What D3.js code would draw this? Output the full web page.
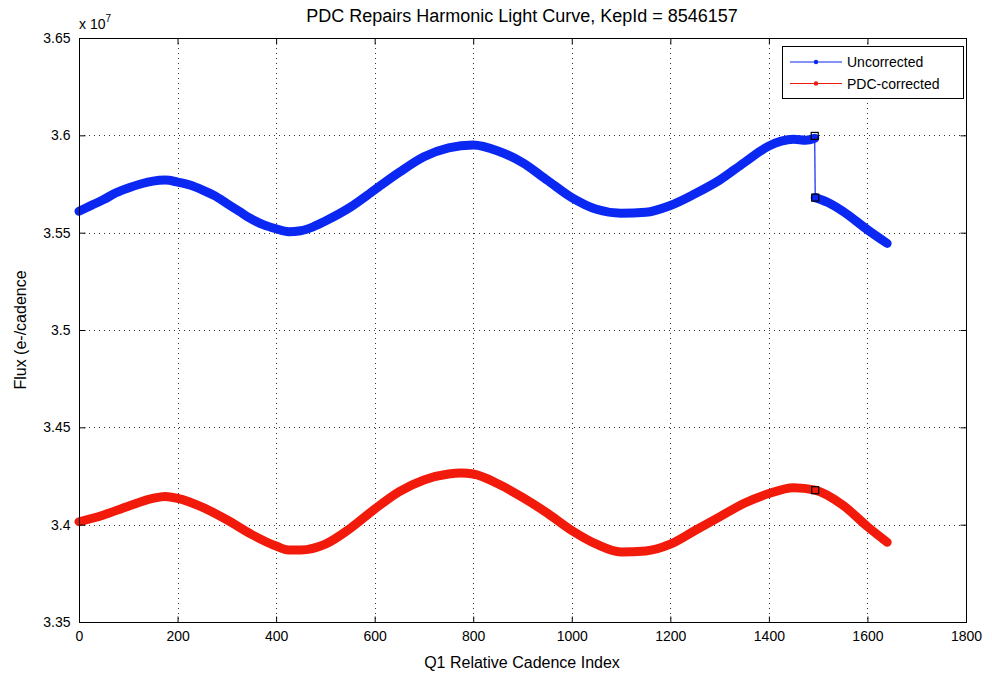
<!DOCTYPE html>
<html>
<head>
<meta charset="utf-8">
<script src="https://cdn.jsdelivr.net/npm/d3@7"></script>
<style>
  html, body { margin: 0; padding: 0; background: #fff; }
  svg { display: block; font-family: "Liberation Sans", Arial, Helvetica, sans-serif; }
</style>
</head>
<body>
<svg id="chart" width="992" height="677"></svg>
<script>
// Cadence indices and flux (units of 1e7 e-/cadence) for the two light curves
const uncorrectedIndex = [0, 25, 50, 75, 100, 125, 150, 175, 200, 225, 250, 275, 300, 325, 350, 375, 400, 425, 450, 475, 500, 550, 600, 650, 700, 750, 800, 850, 900, 950, 1000, 1050, 1100, 1150, 1200, 1250, 1300, 1350, 1400, 1425, 1450, 1475, 1493, 1494, 1520, 1550, 1600, 1640];
const uncorrectedFlux = [3.561, 3.564, 3.567, 3.5705, 3.573, 3.575, 3.5765, 3.577, 3.576, 3.5745, 3.572, 3.569, 3.565, 3.561, 3.557, 3.554, 3.552, 3.5505, 3.551, 3.553, 3.556, 3.563, 3.572, 3.581, 3.589, 3.5935, 3.595, 3.592, 3.586, 3.577, 3.568, 3.562, 3.560, 3.5605, 3.564, 3.570, 3.577, 3.586, 3.5945, 3.597, 3.598, 3.5975, 3.5985, 3.568, 3.5655, 3.561, 3.5515, 3.5445];

const correctedIndex = [0, 50, 100, 150, 175, 200, 250, 300, 350, 400, 425, 450, 500, 550, 600, 650, 700, 750, 775, 800, 850, 900, 950, 1000, 1050, 1100, 1150, 1200, 1250, 1300, 1350, 1400, 1450, 1494, 1550, 1600, 1640];
const correctedFlux = [3.4015, 3.405, 3.4095, 3.4135, 3.4145, 3.4135, 3.409, 3.4025, 3.395, 3.389, 3.387, 3.387, 3.390, 3.398, 3.408, 3.417, 3.423, 3.426, 3.4265, 3.426, 3.421, 3.414, 3.406, 3.397, 3.390, 3.386, 3.3865, 3.390, 3.397, 3.404, 3.411, 3.416, 3.419, 3.4177, 3.410, 3.399, 3.391];

// Cadences flagged at the discontinuity
const repairIndex = [1493, 1494];
const repairUncorrected = [3.5997, 3.568];
const repairCorrected = [3.4177];

const xTicks = [0, 200, 400, 600, 800, 1000, 1200, 1400, 1600, 1800];
const yTicks = [3.35, 3.4, 3.45, 3.5, 3.55, 3.6, 3.65];
const yTickLabels = ["3.35", "3.4", "3.45", "3.5", "3.55", "3.6", "3.65"];

const seriesNames = ["Uncorrected", "PDC-corrected"];
const seriesColors = ["#0a28f2", "#f21a0a"];

const svg = d3.select("#chart");
const plot = { left: 79, right: 966, top: 38, bottom: 622 };

const x = d3.scaleLinear().domain([0, 1800]).range([plot.left, plot.right]);
const y = d3.scaleLinear().domain([3.35, 3.65]).range([plot.bottom, plot.top]);

// grid
const grid = svg.append("g").attr("stroke", "#333").attr("stroke-width", 1)
  .attr("stroke-dasharray", "1,4");
xTicks.slice(1, -1).forEach(t => {
  grid.append("line").attr("x1", Math.round(x(t)) + 0.5).attr("x2", Math.round(x(t)) + 0.5)
    .attr("y1", plot.top).attr("y2", plot.bottom);
});
yTicks.slice(1, -1).forEach(t => {
  grid.append("line").attr("y1", Math.round(y(t)) + 0.5).attr("y2", Math.round(y(t)) + 0.5)
    .attr("x1", plot.left).attr("x2", plot.right);
});

// data
const line = (xs, ys) => d3.line().curve(d3.curveMonotoneX)
  .x(i => x(xs[i])).y(i => y(ys[i]))(d3.range(xs.length));

function drawSeries(xs, ys, color) {
  const g = svg.append("g");
  // split at the jump so the vertical step stays thin
  const cut = xs.indexOf(1494);
  const segs = cut > 0 && xs[cut - 1] === 1493
    ? [[0, cut], [cut, xs.length]] : [[0, xs.length]];
  segs.forEach(([a, b]) => {
    g.append("path").attr("d", line(xs.slice(a, b), ys.slice(a, b)))
      .attr("fill", "none").attr("stroke", color).attr("stroke-width", 9)
      .attr("stroke-linejoin", "round").attr("stroke-linecap", "round");
  });
  if (segs.length > 1) {
    g.append("line").attr("x1", x(xs[cut - 1])).attr("x2", x(xs[cut]))
      .attr("y1", y(ys[cut - 1])).attr("y2", y(ys[cut]))
      .attr("stroke", color).attr("stroke-width", 1.2);
  }
}
drawSeries(uncorrectedIndex, uncorrectedFlux, seriesColors[0]);
drawSeries(correctedIndex, correctedFlux, seriesColors[1]);

// repaired cadence markers
const marks = [
  [repairIndex[0], repairUncorrected[0]],
  [repairIndex[1], repairUncorrected[1]],
  [repairIndex[1], repairCorrected[0]]
];
svg.append("g").selectAll("rect").data(marks).join("rect")
  .attr("x", d => x(d[0]) - 3.5).attr("y", d => y(d[1]) - 3.5)
  .attr("width", 7).attr("height", 7)
  .attr("fill", "none").attr("stroke", "#000").attr("stroke-width", 1.2);

// axes box
svg.append("rect").attr("x", plot.left + 0.5).attr("y", plot.top + 0.5)
  .attr("width", plot.right - plot.left).attr("height", plot.bottom - plot.top)
  .attr("fill", "none").attr("stroke", "#000").attr("stroke-width", 1);

// ticks: axes on both sides, ticks pointing inward
const tickLen = 6;
const xAxisB = d3.axisBottom(x).tickValues(xTicks).tickSizeInner(-tickLen).tickSizeOuter(0).tickPadding(9)
  .tickFormat(d3.format("d"));
const xAxisT = d3.axisTop(x).tickValues(xTicks).tickSizeInner(-tickLen).tickSizeOuter(0).tickFormat("");
const yAxisL = d3.axisLeft(y).tickValues(yTicks).tickSizeInner(-tickLen).tickSizeOuter(0).tickPadding(9)
  .tickFormat((d, i) => yTickLabels[i]);
const yAxisR = d3.axisRight(y).tickValues(yTicks).tickSizeInner(-tickLen).tickSizeOuter(0).tickFormat("");

function styleAxis(g) {
  g.select(".domain").remove();
  g.selectAll("line").attr("stroke", "#000");
  g.selectAll("text").attr("fill", "#000").attr("font-size", 14)
    .attr("font-family", "Liberation Sans, Arial, sans-serif");
}
svg.append("g").attr("transform", `translate(0,${plot.bottom + 0.5})`).call(xAxisB).call(styleAxis);
svg.append("g").attr("transform", `translate(0,${plot.top + 0.5})`).call(xAxisT).call(styleAxis);
svg.append("g").attr("transform", `translate(${plot.left + 0.5},0)`).call(yAxisL).call(styleAxis);
svg.append("g").attr("transform", `translate(${plot.right + 0.5},0)`).call(yAxisR).call(styleAxis);

// exponent label
const expo = svg.append("text").attr("x", 79).attr("y", 29).attr("font-size", 14).attr("fill", "#000");
expo.append("tspan").text("x 10");
expo.append("tspan").attr("dy", -7).attr("font-size", 10).text("7");

// title and axis labels
svg.append("text").attr("x", 522).attr("y", 22).attr("text-anchor", "middle")
  .attr("font-size", 18).attr("fill", "#000")
  .text("PDC Repairs Harmonic Light Curve, KepId = 8546157");
svg.append("text").attr("x", 522).attr("y", 668).attr("text-anchor", "middle")
  .attr("font-size", 16).attr("fill", "#000").text("Q1 Relative Cadence Index");
svg.append("text").attr("transform", "translate(26,330) rotate(-90)").attr("text-anchor", "middle")
  .attr("font-size", 16).attr("fill", "#000").text("Flux (e-/cadence");

// legend
const lg = svg.append("g").attr("transform", "translate(782,46)");
lg.append("rect").attr("x", 0.5).attr("y", 0.5).attr("width", 181).attr("height", 52)
  .attr("fill", "#fff").attr("stroke", "#000").attr("stroke-width", 1);
seriesNames.forEach((name, i) => {
  const yy = 16 + i * 21.5;
  lg.append("line").attr("x1", 8).attr("x2", 60).attr("y1", yy).attr("y2", yy)
    .attr("stroke", seriesColors[i]).attr("stroke-width", 1.2);
  lg.append("circle").attr("cx", 34).attr("cy", yy).attr("r", 2.2).attr("fill", seriesColors[i]);
  lg.append("text").attr("x", 65).attr("y", yy + 5).attr("font-size", 14).attr("fill", "#000").text(name);
});
</script>
</body>
</html>
